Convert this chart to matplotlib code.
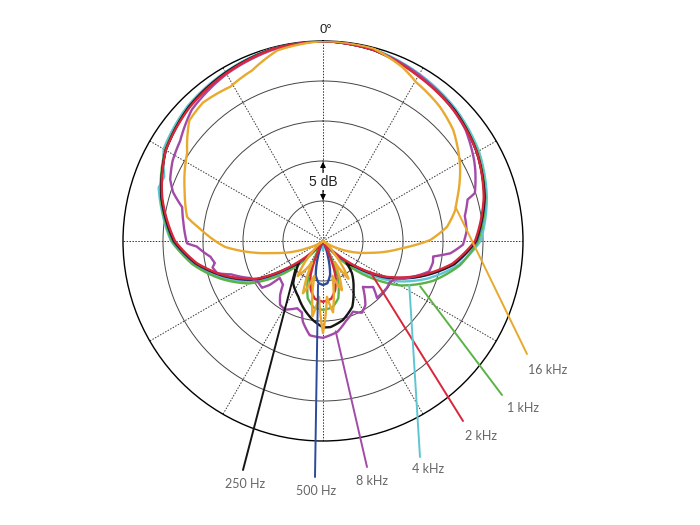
import numpy as np
import matplotlib.pyplot as plt

plt.rcParams['font.family'] = ['Lato', 'DejaVu Sans']

# polar response: angle in degrees (clockwise from 0 deg), level in dB
ang_250 = [0, 15, 30, 45, 60, 75, 90, 100, 110, 120, 128, 133, 138, 148, 156, 166, 175, 180, 187, 195,
           204, 215, 222, 228, 233, 240, 250, 260, 270, 285, 300, 315, 330, 345, 360]
db_250 = [0, -0.3, -1.1, -1.8, -2.8, -4.1, -5.9, -8.4, -12.1, -16.0, -19.8, -21.0, -19.6, -17.8, -16.0, -14.8, -14.2, -14.2, -15.0, -16.1,
          -17.4, -18.5, -20.0, -21.0, -19.2, -15.5, -12.1, -8.9, -6.4, -4.1, -2.3, -1.3, -0.7, -0.2, 0]

ang_500 = [0, 15, 30, 45, 60, 75, 90, 100, 110, 120, 130, 140, 155, 162, 168, 174, 180, 186, 192, 198,
           205, 220, 230, 240, 250, 260, 270, 285, 300, 315, 330, 345, 360]
db_500 = [0, -0.3, -1.1, -1.8, -2.8, -4.1, -5.8, -8.3, -12.0, -15.8, -20.5, -24.5, -25, -23, -20.7, -19.7, -19.5, -19.7, -20.6, -23,
          -25, -24.5, -20.3, -15.3, -12.0, -8.8, -6.3, -4.1, -2.3, -1.3, -0.7, -0.2, 0]

ang_1k = [0, 15, 30, 45, 60, 75, 90, 100, 110, 120, 130, 140, 150, 158, 165, 172, 180, 188, 195, 202,
          210, 220, 230, 240, 250, 260, 270, 285, 300, 315, 330, 345, 360]
db_1k = [0, -0.3, -1.1, -1.8, -2.7, -4.0, -5.6, -7.6, -10.4, -13.9, -18.6, -23.5, -25, -20.0, -17.6, -16.6, -16.4, -16.6, -17.6, -20.0,
         -25, -23.5, -18.8, -14.4, -11.3, -8.4, -6.1, -4.0, -2.2, -1.3, -0.7, -0.2, 0]

ang_2k = [0, 15, 30, 45, 60, 75, 90, 100, 110, 120, 130, 140, 152, 160, 166, 172, 180, 188, 194, 200,
          208, 220, 230, 240, 250, 260, 270, 285, 300, 315, 330, 345, 360]
db_2k = [0, -0.3, -1.2, -1.9, -2.8, -4.2, -6.0, -8.6, -12.3, -16.1, -21.0, -25, -25, -20.5, -18.7, -17.7, -17.4, -17.7, -18.7, -20.5,
         -25, -25, -20.8, -15.6, -12.2, -9.0, -6.5, -4.2, -2.3, -1.4, -0.8, -0.2, 0]

ang_4k = [0, 15, 30, 45, 60, 75, 90, 100, 110, 120, 130, 140, 150, 170, 180, 190, 210, 220, 230, 240,
          250, 260, 270, 280, 288, 292, 300, 315, 330, 345, 360]
db_4k = [0, -0.2, -0.9, -1.6, -2.5, -3.8, -5.3, -7.8, -11.2, -15.0, -19.8, -24, -25, -24.5, -23.8, -24.5, -25, -24, -19.8, -15.0,
         -11.6, -8.5, -6.0, -4.6, -3.4, -3.6, -2.0, -1.1, -0.6, -0.1, 0]

ang_8k = [0, 15, 30, 45, 52, 62, 65, 72.5, 74, 80, 86, 91.5, 95.5, 98, 101, 106, 112, 118, 121.5, 126,
          136.5, 132.5, 139, 146.5, 151.5, 157, 164, 171, 180, 188, 194, 196.5, 201, 209, 214, 218.5, 222.5, 229.5, 230.5, 232.5,
          238, 243, 250, 253, 256.5, 258.5, 262, 267.5, 269, 277.5, 283.5, 288, 292, 298, 305, 315, 330, 345, 360]
db_8k = [0, -0.3, -1.0, -1.9, -2.4, -3.6, -4.0, -5.1, -6.2, -7.0, -7.0, -7.5, -9.0, -11.1, -11.0, -11.2, -13.0, -14.8, -15.2, -15.1,
         -15.2, -16.5, -17.4, -15.4, -14.8, -15.4, -14.6, -13.5, -12.9, -13.1, -14.6, -15.7, -16.0, -15.2, -15.4, -16.4, -17.6, -17.9, -16.4, -15.4,
         -15.4, -14.8, -12.8, -11.2, -10.8, -11.2, -10.8, -9.2, -8.0, -7.4, -6.9, -5.3, -4.4, -3.7, -3.2, -1.8, -0.9, -0.3, 0]

ang_16k = [0, 14.5, 24.5, 30.5, 41, 49.5, 61.5, 73, 77, 83.5, 89.5, 95, 104, 116.5, 125, 138, 146, 151, 159, 165,
           172, 176, 180, 184, 188, 194, 201, 207, 216, 224, 235, 245, 256, 266.5, 275, 280, 290, 303, 312, 319,
           329, 337.5, 346.5, 360]
db_16k = [0, -0.1, -1.1, -2.0, -2.75, -3.6, -5.5, -7.5, -8.05, -9.4, -11.6, -15.0, -18.9, -23.0, -25, -23, -19.3, -22, -18.4, -20.5,
          -16.0, -18.0, -13.5, -18.0, -15.5, -20.5, -18.0, -22, -19.6, -23, -25, -23, -18.8, -12.75, -9.8, -7.75, -6.6, -4.75, -2.5, -2.1,
          -2.5, -1.9, -0.5, 0]

labels = ['250 Hz', '500 Hz', '1 kHz', '2 kHz', '4 kHz', '8 kHz', '16 kHz']
colors = ['#151515', '#2c4a9a', '#5cb247', '#d8263a', '#5ec6d2', '#a24aa8', '#e8a92e']
series = [(ang_250, db_250), (ang_500, db_500), (ang_1k, db_1k), (ang_2k, db_2k),
          (ang_4k, db_4k), (ang_8k, db_8k), (ang_16k, db_16k)]

# leader lines: anchor on curve (deg, dB) -> end point / label centre (pixels from top-left)
leader_anchor = {'250 Hz': (224, -20.0), '500 Hz': (186.5, -19.5), '8 kHz': (172, -13.6), '4 kHz': (117, -12.9),
                 '2 kHz': (123, -18.0), '1 kHz': (115, -11.6), '16 kHz': (75.6, -7.9)}
leader_end = {'250 Hz': (243, 470), '500 Hz': (315, 477), '8 kHz': (367, 467), '4 kHz': (420, 457),
              '2 kHz': (463, 421), '1 kHz': (502, 395), '16 kHz': (527, 354)}
label_pos = {'250 Hz': (245, 484), '500 Hz': (316, 491), '8 kHz': (372, 481), '4 kHz': (428, 469),
             '2 kHz': (481, 436), '1 kHz': (523, 408), '16 kHz': (548, 370)}

W, H = 700, 525
fig = plt.figure(figsize=(7, 5.25), dpi=100)
ax = fig.add_axes([123 / W, (H - 441) / H, 400 / W, 400 / H], projection='polar')
ax.set_theta_zero_location('N')
ax.set_theta_direction(-1)
ax.set_rlim(-25, 0)

ax.set_xticks(np.radians(np.arange(0, 360, 30)))
ax.set_xticklabels([])
ax.set_yticks([-20, -15, -10, -5])
ax.set_yticklabels([])
ax.tick_params(length=0)
ax.xaxis.grid(True, color='#333333', lw=0.7, ls=(0, (1.5, 1.5)))
ax.yaxis.grid(True, color='#444444', lw=0.7, ls='-')
ax.spines['polar'].set_color('black')
ax.spines['polar'].set_linewidth(1.0)

order = [4, 2, 1, 0, 5, 3, 6]
for k, i in enumerate(order):
    a, d = series[i]
    ln, = ax.plot(np.radians(a), np.clip(d, -25, 0), color=colors[i], lw=1.7, zorder=3 + k * 0.1)
    # draw segments as arcs in polar space instead of straight chords
    ln.get_path()._interpolation_steps = 12

for i, lab in enumerate(labels):
    th, r = leader_anchor[lab]
    xe, ye = leader_end[lab]
    ax.annotate('', xy=(np.radians(th), r), xytext=(xe, H - ye), textcoords='figure pixels',
                arrowprops=dict(arrowstyle='-', color=colors[i], lw=1.4, shrinkA=0, shrinkB=0),
                annotation_clip=False, zorder=4)
    xl, yl = label_pos[lab]
    fig.text(xl / W, 1 - yl / H, lab, ha='center', va='center', fontsize=9, color='#666666')

# 5 dB scale marker
ax.annotate('', xy=(0, -15.1), xytext=(0, -19.9),
            arrowprops=dict(arrowstyle='<|-|>', color='black', lw=0.8, mutation_scale=8, shrinkA=0, shrinkB=0),
            zorder=5)
ax.text(0, -17.6, '5 dB', ha='center', va='center', fontsize=10, color='#222222',
        family=['Liberation Sans', 'DejaVu Sans'],
        bbox=dict(facecolor='white', edgecolor='none', pad=1.0), zorder=6)

fig.text(326 / W, 1 - 30 / H, '0°', ha='center', va='center', fontsize=9.5, color='#222222',
         family=['Liberation Sans', 'DejaVu Sans'])

fig.savefig('out.png', dpi=100)
